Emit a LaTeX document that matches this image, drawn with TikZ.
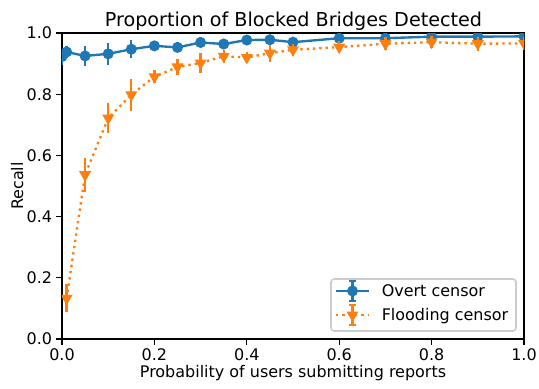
\documentclass[tikz,border=0pt]{standalone}
\usepackage{fontspec}
\setmainfont{DejaVu Sans}
\usepackage{pgfplots}
\pgfplotsset{compat=1.18}
\usetikzlibrary{plotmarks}

\definecolor{overtblue}{HTML}{1F77B4}
\definecolor{floodorange}{HTML}{FF7F0E}

\tikzset{
	overt line/.style = {overtblue, line width=1.7pt},
	flood line/.style = {floodorange, line width=1.7pt, dash pattern=on 1.7pt off 2.85pt},
	overt mark/.style = {mark=*, mark size=3.4pt, mark options={solid, overtblue, fill=overtblue, line width=1.1pt}},
	flood mark/.style = {mark=triangle*, mark size=3.9pt, mark options={solid, floodorange, fill=floodorange, line width=1.1pt, rotate=180}},
	bar/.style = {line width=1.7pt, solid},
	label text/.style = {font=\fontsize{11.5}{14}\selectfont, inner sep=0pt},
	legend text/.style = {font=\fontsize{11.5}{14}\selectfont, inner sep=0pt, anchor=base west}
}

\begin{document}
\begin{tikzpicture}[x=0.72pt, y=0.72pt]
	\useasboundingbox (0,0) rectangle (539,388);

	\begin{axis}[
		at={(44.64pt,35.28pt)}, anchor=south west,
		scale only axis, width=332.64pt, height=220.32pt,
		xmin=0, xmax=1, ymin=0, ymax=1,
		xtick={0,0.2,0.4,0.6,0.8,1}, ytick={0,0.2,0.4,0.6,0.8,1},
		xticklabels={0.0,0.2,0.4,0.6,0.8,1.0},
		yticklabels={0.0,0.2,0.4,0.6,0.8,1.0},
		tick align=outside, tick pos=left, major tick length=4pt,
		every tick/.style={black, line width=0.92pt},
		axis line style={line width=0.92pt},
		tick label style={font=\fontsize{11.5}{14}\selectfont, inner sep=0pt},
		xticklabel style={anchor=north, yshift=-2.5pt},
		yticklabel style={anchor=east, xshift=-3pt},
		clip marker paths=true,
	]
	% Overt censor
	\addplot[overt line, overt mark,
		error bars/.cd, y dir=both, y explicit,
		error bar style={bar},
		error mark options={bar, overtblue, mark size=2.5pt}]
	table[x=p, y=r, y error=e] {
		p     r     e
		0     0.923 0.015
		0.01  0.938 0.008
		0.05  0.925 0.020
		0.1   0.932 0.024
		0.15  0.947 0.018
		0.2   0.958 0.005
		0.25  0.953 0.005
		0.3   0.969 0.005
		0.35  0.964 0.006
		0.4   0.977 0.004
		0.45  0.978 0.004
		0.5   0.970 0.004
		0.6   0.983 0.003
		0.7   0.983 0.003
		0.8   0.988 0.003
		0.9   0.988 0.003
		1.0   0.989 0.002
	};
	% Flooding censor
	\addplot[flood line, flood mark,
		error bars/.cd, y dir=both, y explicit,
		error bar style={bar},
		error mark options={bar, floodorange, mark size=2.5pt}]
	table[x=p, y=r, y error=e] {
		p     r     e
		0.01  0.133 0.034
		0.05  0.537 0.044
		0.1   0.722 0.038
		0.15  0.798 0.040
		0.2   0.857 0.010
		0.25  0.889 0.014
		0.3   0.902 0.020
		0.35  0.924 0.010
		0.4   0.920 0.008
		0.45  0.934 0.017
		0.5   0.945 0.008
		0.6   0.954 0.008
		0.7   0.965 0.010
		0.8   0.970 0.008
		0.9   0.965 0.012
		1.0   0.966 0.010
	};
	\end{axis}

	% title and axis labels
	\node (title) [anchor=base, font=\fontsize{13.8}{16}\selectfont, inner sep=0pt] at (293.5,361) {Proportion of Blocked Bridges Detected};
	\node (xlab) [label text, anchor=base] at (293,10.5) {Probability of users submitting reports};
	\node (ylab) [label text, anchor=base, rotate=90] at (23,202) {Recall};

	% legend
	\draw [black!20, line width=1.1pt, fill=white, fill opacity=.8, rounded corners=2.3pt] (331,57) rectangle (516,109);

	\coordinate (ovl) at (336,97);
	\coordinate (ovm) at (352.5,97);
	\coordinate (ovr) at (369,97);
	\draw [overt line] (ovl) -- (ovr);
	\draw [overtblue, bar] ([yshift=-7]ovm) -- ([yshift=7]ovm);
	\draw [overtblue, bar] ([xshift=-2.5pt, yshift=-7]ovm) -- ([xshift=2.5pt, yshift=-7]ovm);
	\draw [overtblue, bar] ([xshift=-2.5pt, yshift=7]ovm) -- ([xshift=2.5pt, yshift=7]ovm);
	\path [overt mark] plot[only marks] coordinates {(ovm)};
	\node (ovtext) [legend text] at (381.5,91.2) {Overt censor};

	\coordinate (fll) at (336,73);
	\coordinate (flm) at (352.5,73);
	\coordinate (flr) at (369,73);
	\draw [flood line] (fll) -- (flr);
	\draw [floodorange, bar] ([yshift=-7]flm) -- ([yshift=7]flm);
	\draw [floodorange, bar] ([xshift=-2.5pt, yshift=-7]flm) -- ([xshift=2.5pt, yshift=-7]flm);
	\draw [floodorange, bar] ([xshift=-2.5pt, yshift=7]flm) -- ([xshift=2.5pt, yshift=7]flm);
	\path [flood mark] plot[only marks] coordinates {(flm)};
	\node (fltext) [legend text] at (381.5,67.2) {Flooding censor};
\end{tikzpicture}
\end{document}
